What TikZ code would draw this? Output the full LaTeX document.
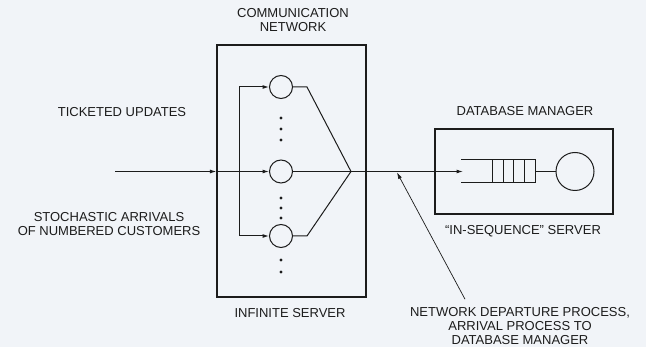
\documentclass[tikz,border=0pt]{standalone}
\usepackage{fontspec}
\setsansfont{Liberation Sans}
\usepackage{tikz}
\usetikzlibrary{arrows.meta,positioning,calc}
\definecolor{paper}{HTML}{F1F4F8}
\definecolor{ink}{HTML}{1C1C1C}
\tikzset{
  >={Latex[length=6.5pt,width=4pt]},
  flow/.style={->,draw=ink,line width=1pt},
  wire/.style={draw=ink,line width=1pt},
  pointer/.style={->,draw=ink,line width=.7pt},
  frame/.style={draw=ink,line width=1.2pt,inner sep=0pt},
  server/.style={circle,draw=ink,line width=1pt,inner sep=0pt,minimum size=23pt},
  dbserver/.style={circle,draw=ink,line width=1pt,inner sep=0pt,minimum size=38pt},
  labeltext/.style={font=\sffamily\fontsize{13}{14}\selectfont,text=ink,align=center,inner sep=2pt},
}
\begin{document}
\begin{tikzpicture}[x=1pt,y=-1pt]
  \fill[paper] (0,0) rectangle (646,347);
  \useasboundingbox (0,0) rectangle (646,347);

  % network box with its parallel servers
  \node[frame,minimum width=149pt,minimum height=252pt] (net) at (291.5,171) {};
  \node[labeltext] (nettitle) at (293,20.5) {COMMUNICATION\\NETWORK};
  \node[labeltext] (netname) at (290,313) {INFINITE SERVER};
  \node[server] (s1) at (281,87) {};
  \node[server] (s2) at (281,171.5) {};
  \node[server] (s3) at (281,236) {};
  \foreach \y in {118,129,140,198,208,218,260,272}
    \fill[ink] (281,\y) circle (1.7);

  \coordinate (in) at (115,171.5);
  \coordinate (b1) at (239,87);
  \coordinate (b3) at (239,236);
  \coordinate (o1) at (307,87);
  \coordinate (o3) at (307,236);
  \coordinate (apex) at (351,171.5);

  \draw[flow] (in) -- (in -| net.west);
  \draw[flow] (in -| net.west) -- (s2);
  \draw[wire] (b1) -- (b3);
  \draw[flow] (b1) -- (s1);
  \draw[flow] (b3) -- (s3);
  \draw[wire] (s1.east) -- (o1) -- (apex);
  \draw[wire] (s3.east) -- (o3) -- (apex);
  \draw[wire] (s2) -- (apex);

  % arrival labels
  \node[labeltext] (tick) at (122,112) {TICKETED UPDATES};
  \node[labeltext] (stoch) at (109,224.5) {STOCHASTIC ARRIVALS\\OF NUMBERED CUSTOMERS};

  % database manager
  \node[frame,minimum width=178pt,minimum height=85pt] (db) at (524,171.5) {};
  \node[labeltext] (dbtitle) at (525,111.5) {DATABASE MANAGER};
  \node[labeltext] (dbname) at (523,231) {“IN-SEQUENCE” SERVER};
  \coordinate (qa) at (461,159.5);
  \coordinate (qb) at (535,182.5);
  \coordinate (qmouth) at (463,171.5);
  \draw[wire] (qa) -- (qa -| qb) -- (qb) -- (qa |- qb);
  \foreach \x in {492,503,513,524}
    \draw[wire] (\x,159.5) -- (\x,182.5);
  \node[dbserver] (dbs) at (575,171.5) {};
  \draw[wire] (qb |- dbs) -- (dbs);
  \draw[flow] (apex) -- (qmouth);

  % departure process
  \node[labeltext] (dep) at (520,326) {NETWORK DEPARTURE PROCESS,\\ARRIVAL PROCESS TO\\DATABASE MANAGER};
  \coordinate (hit) at (397,172.5);
  \draw[pointer] ([xshift=-55pt,yshift=6pt]dep.north) -- (hit);
\end{tikzpicture}
\end{document}
